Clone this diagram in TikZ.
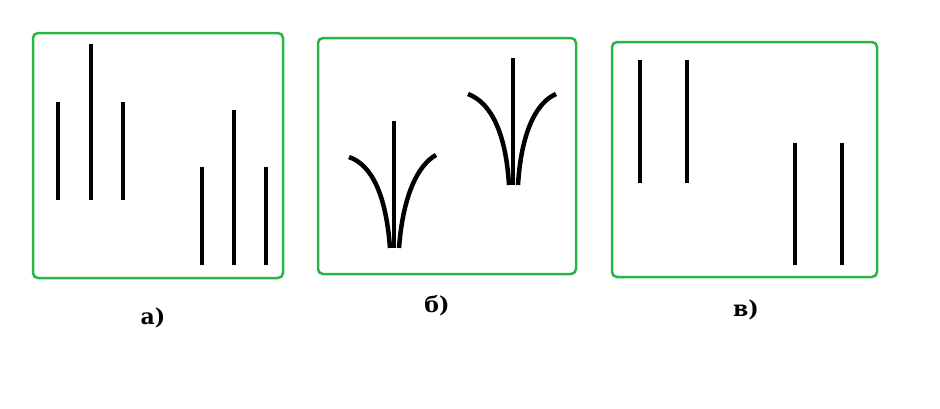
\documentclass[tikz,border=0pt]{standalone}
\usepackage{fontspec}
\setmainfont{DejaVu Serif}
\begin{document}
\begin{tikzpicture}[x=1pt,y=-1pt,
  frame/.style={draw={rgb,255:red,40;green,180;blue,70},line width=2.5pt,rounded corners=5pt},
  bar/.style={line width=4pt},
  leaf/.style={line width=4.5pt},
  lab/.style={font=\bfseries\fontsize{22}{24}\selectfont}]
\useasboundingbox (0,0) rectangle (940,408);
\draw[frame] (33,33) rectangle (283,278);
\draw[frame] (318,38) rectangle (576,274);
\draw[frame] (612,42) rectangle (877,277);
% a
\foreach \x/\t/\b in {58/102/200, 91/44/200, 123/102/200, 202/167/265, 234/110/265, 266/167/265}
  \draw[bar] (\x,\t) -- (\x,\b);
% b
\draw[leaf] (394,121) -- (394,248);
\draw[leaf] (390,248) .. controls (386,195) and (372,165) .. (349,157);
\draw[leaf] (399,248) .. controls (403,195) and (418,165) .. (436,155);
\draw[leaf] (513,58) -- (513,185);
\draw[leaf] (509,185) .. controls (506,135) and (492,103) .. (468,94);
\draw[leaf] (518,185) .. controls (521,135) and (535,103) .. (556,94);
% c
\foreach \x/\t/\b in {640/60/183, 687/60/183, 795/143/265, 842/143/265}
  \draw[bar] (\x,\t) -- (\x,\b);
\node[lab] (la) at (153,318) {а)};
\node[lab] (lb) at (437,306) {б)};
\node[lab] (lc) at (746,310) {в)};
\end{tikzpicture}
\end{document}
